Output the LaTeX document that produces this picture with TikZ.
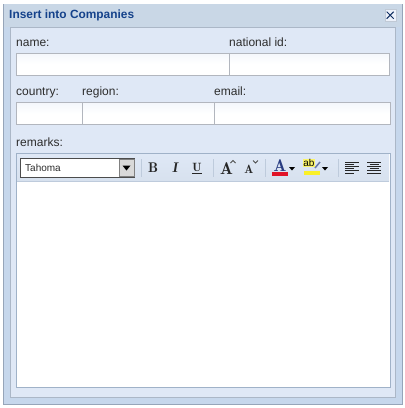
\documentclass[tikz,border=0pt]{standalone}
\usepackage{fontspec}
\setmainfont{Liberation Sans}
\definecolor{framedeep}{RGB}{150, 165, 185}
\definecolor{frameblue}{RGB}{198, 215, 236}
\definecolor{titleblue}{RGB}{201, 215, 230}
\definecolor{titletext}{RGB}{21, 66, 139}
\definecolor{panelblue}{RGB}{223, 232, 246}
\definecolor{fieldgrey}{RGB}{178, 182, 190}
\definecolor{editorline}{RGB}{160, 178, 200}
\definecolor{toolgrey}{RGB}{215, 225, 238}
\definecolor{sepgrey}{RGB}{190, 203, 220}
\definecolor{labeltext}{RGB}{45, 45, 45}
\definecolor{fontred}{RGB}{225, 20, 40}
\definecolor{markyellow}{RGB}{250, 240, 40}
\definecolor{fontblue}{RGB}{40, 60, 130}
\usetikzlibrary{
  arrows.meta,
  positioning
}
\tikzset{
  fieldbox/.style={draw=fieldgrey, line width=1pt, top color=panelblue!35, bottom color=white, middle color=white, anchor=north west, inner sep=0pt, minimum height=22pt},
  fieldlabel/.style={font=\fontsize{12}{14}\selectfont, text=labeltext, anchor=base west, inner sep=0pt},
  iconfont/.style={font=\fontfamily{lmr}\fontsize{#1}{12}\selectfont\bfseries, text=black!85, inner sep=0pt},
  swatch/.style={anchor=north west, inner sep=0pt, minimum width=16pt, minimum height=4pt}
}
\begin{document}
\begin{tikzpicture}[x=1pt, y=-1pt]
  \useasboundingbox (0, 0) rectangle (405, 408);

  % ---------- window frame ----------
  \fill[white] (0, 0) rectangle (405, 408);
  \node[draw=framedeep, line width=1pt, fill=frameblue, anchor=north west, inner sep=0pt, minimum width=399pt, minimum height=400pt] (window) at (3, 3.5) {};
  \node[fill=titleblue, anchor=north west, inner sep=0pt, minimum width=398pt, minimum height=23pt] (titlebar) at (3.5, 4) {};
  \node[draw=framedeep!80, line width=0.8pt, fill=panelblue, anchor=north west, inner sep=0pt, minimum width=385pt, minimum height=370pt] (panel) at (10, 27) {};
  \node[font=\fontsize{11.9}{14}\selectfont\bfseries, text=titletext, anchor=base west, inner sep=0pt] (title) at (9, 18.5) {Insert into Companies};

  % close button
  \node[draw=framedeep!60, fill=panelblue!60, anchor=north west, inner sep=0pt, minimum width=11pt, minimum height=12pt] (closebox) at (384.5, 9) {};
  \draw[line width=1pt, titletext!70!black] (closebox.center) ++(-3.5, -3.5) -- ++(7, 7) ++(-7, 0) -- ++(7, -7);

  % ---------- first row ----------
  \node[fieldlabel] (namelabel) at (16, 46) {name:};
  \node[fieldlabel] (nationallabel) at (229, 46) {national id:};
  \node[fieldbox, minimum width=213pt] (namefield) at (16, 52.5) {};
  \node[fieldbox, minimum width=160pt] (nationalfield) at (229, 52.5) {};

  % ---------- second row ----------
  \node[fieldlabel] (countrylabel) at (16, 95) {country:};
  \node[fieldlabel] (regionlabel) at (82, 95) {region:};
  \node[fieldlabel] (emaillabel) at (214, 95) {email:};
  \node[fieldbox, minimum width=66pt] (countryfield) at (16, 102) {};
  \node[fieldbox, minimum width=132pt] (regionfield) at (82, 102) {};
  \node[fieldbox, minimum width=176pt] (emailfield) at (214, 102) {};

  % ---------- remarks editor ----------
  \node[fieldlabel] (remarkslabel) at (16, 146) {remarks:};
  \node[draw=editorline, line width=1pt, fill=white, anchor=north west, inner sep=0pt, minimum width=374pt, minimum height=234pt] (editor) at (16, 153) {};
  \node[top color=panelblue, bottom color=toolgrey, anchor=north west, inner sep=0pt, minimum width=372pt, minimum height=27pt] (toolbar) at (17, 154) {};
  \draw[sepgrey] (toolbar.south west) -- (toolbar.south east);

  % font combo
  \node[draw=black!70, line width=1pt, fill=white, anchor=north west, inner sep=0pt, minimum width=114pt, minimum height=19pt] (combo) at (20, 158) {};
  \node[font=\fontsize{10}{12}\selectfont, text=labeltext, anchor=base west, inner sep=0pt] (combotext) at (25, 171) {Tahoma};
  \node[draw=black!50, fill=black!15, anchor=north west, inner sep=0pt, minimum width=15pt, minimum height=17pt] (combobtn) at (118.5, 159) {};
  \fill[black] (122.5, 165.5) -- (130.5, 165.5) -- (126.5, 170.5) -- cycle;

  % separators
  \foreach \x in {141, 213, 265, 338} {
    \draw[sepgrey, line width=1pt] (\x, 159) -- (\x, 177);
  }

  % style buttons
  \node[iconfont=14] (boldicon) at (153, 168) {B};
  \node[iconfont=14] (italicicon) at (175, 168) {\itshape I};
  \node[iconfont=12] (underlineicon) at (197, 167) {U};
  \draw[black!85, line width=1pt] (192, 173.5) -- (202, 173.5);

  % size buttons
  \node[iconfont=17] (growicon) at (226.5, 168.5) {A};
  \node[iconfont=12] (shrinkicon) at (249, 169) {A};
  \draw[black!70, line width=0.8pt] (230.5, 163) -- (233, 160.5) -- (235.5, 163);
  \draw[black!70, line width=0.8pt] (253, 160.5) -- (255.5, 163) -- (258, 160.5);

  % colour buttons
  \node[iconfont=17, text=fontblue] (fonticon) at (280, 165.5) {A};
  \node[swatch, fill=fontred] (fontbar) at (272, 171.5) {};
  \fill[black] (289, 167) -- (295, 167) -- (292, 170.5) -- cycle;
  \node[font=\fontsize{10}{10}\selectfont, text=black, fill=markyellow!70, inner sep=0.3pt] (markicon) at (309, 163) {ab};
  \draw[fontblue!70, line width=1.5pt] (315, 168) -- (320, 162);
  \node[swatch, fill=markyellow] (markbar) at (304, 171) {};
  \fill[black] (322, 167) -- (328, 167) -- (325, 170.5) -- cycle;

  % alignment buttons
  \foreach \y/\w in {162/14, 164.2/9, 166.4/14, 168.6/9, 170.8/14, 173/9} {
    \draw[black!85, line width=0.9pt] (345, \y) -- ++(\w, 0);
  }
  \foreach \y/\w in {162/14, 164.2/9, 166.4/14, 168.6/9, 170.8/14, 173/14} {
    \draw[black!85, line width=0.9pt] (374, \y) ++(-0.5*\w, 0) -- ++(\w, 0);
  }
\end{tikzpicture}
\end{document}
